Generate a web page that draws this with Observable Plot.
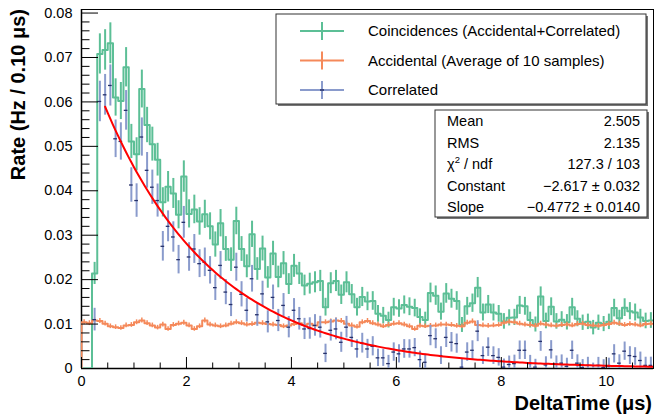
<!DOCTYPE html>
<html><head><meta charset="utf-8">
<script src="https://cdn.jsdelivr.net/npm/d3@7"></script>
<script src="https://cdn.jsdelivr.net/npm/@observablehq/plot@0.6"></script>
<style>
body{margin:0;background:#fff;}
#wrap{position:relative;width:654px;height:417px;}
</style></head><body><div id="wrap"></div>
<script>
// ---- data: 109 bins of 0.1 µs from 0 to 10.9 ----
const binWidth = 0.1;
const xDomain = [0, 10.9];
const yDomain = [0, 0.0808];

const coincidences = [
0,0,0.0214,0.0708,0.0717,0.0732,0.0610,0.0602,0.0678,0.0511,
0.0482,0.0629,0.0548,0.0505,0.0470,0.0374,0.0409,0.0394,0.0346,0.0432,
0.0348,0.0358,0.0331,0.0347,0.0320,0.0279,0.0327,0.0269,0.0245,0.0332,
0.0269,0.0230,0.0302,0.0224,0.0270,0.0205,0.0259,0.0206,0.0237,0.0190,
0.0231,0.0214,0.0187,0.0191,0.0194,0.0197,0.0138,0.0192,0.0197,0.0166,
0.0194,0.0167,0.0138,0.0161,0.0151,0.0152,0.0123,0.0119,0.0109,0.0138,
0.0135,0.0143,0.0139,0.0136,0.0116,0.0109,0.0170,0.0164,0.0128,0.0169,
0.0157,0.0152,0.0098,0.0140,0.0147,0.0182,0.0126,0.0144,0.0126,0.0123,
0.0106,0.0114,0.0115,0.0142,0.0140,0.0109,0.0099,0.0162,0.0107,0.0139,
0.0106,0.0110,0.0104,0.0138,0.0112,0.0103,0.0105,0.0092,0.0103,0.0100,
0.0105,0.0136,0.0113,0.0137,0.0129,0.0126,0.0115,0.0107,0.0108];

const accidental = [
0.0104,0.0102,0.0108,0.0107,0.0101,0.0095,0.0093,0.0091,0.0097,0.0098,
0.0104,0.0108,0.0102,0.0097,0.0092,0.0099,0.0089,0.0098,0.0101,0.0103,
0.0097,0.0089,0.0095,0.0108,0.0099,0.0097,0.0095,0.0097,0.0101,0.0104,
0.0102,0.0099,0.0100,0.0103,0.0102,0.0100,0.0099,0.0098,0.0095,0.0097,
0.0100,0.0102,0.0098,0.0101,0.0097,0.0104,0.0104,0.0106,0.0108,0.0107,
0.0101,0.0097,0.0094,0.0104,0.0107,0.0102,0.0099,0.0095,0.0098,0.0101,
0.0102,0.0099,0.0095,0.0089,0.0096,0.0095,0.0096,0.0097,0.0099,0.0099,
0.0098,0.0096,0.0095,0.0103,0.0106,0.0098,0.0097,0.0096,0.0097,0.0098,
0.0103,0.0105,0.0104,0.0101,0.0099,0.0098,0.0096,0.0101,0.0099,0.0097,
0.0096,0.0098,0.0099,0.0097,0.0100,0.0101,0.0098,0.0097,0.0096,0.0098,
0.0100,0.0103,0.0101,0.0098,0.0100,0.0099,0.0097,0.0100,0.0101];

const correlated = [
-0.0104,-0.0102,0.0110,0.0601,0.0616,0.0637,0.0517,0.0511,0.0581,0.0413,
0.0378,0.0521,0.0446,0.0408,0.0378,0.0275,0.0320,0.0296,0.0245,0.0329,
0.0251,0.0269,0.0236,0.0239,0.0221,0.0182,0.0232,0.0172,0.0144,0.0228,
0.0167,0.0131,0.0202,0.0121,0.0168,0.0105,0.0160,0.0108,0.0142,0.0093,
0.0131,0.0112,0.0089,0.0090,0.0097,0.0093,0.0034,0.0086,0.0089,0.0059,
0.0093,0.0070,0.0044,0.0057,0.0044,0.0050,0.0024,0.0024,0.0011,0.0037,
0.0033,0.0044,0.0044,0.0047,0.0020,0.0014,0.0074,0.0067,0.0029,0.0070,
0.0059,0.0056,0.0003,0.0037,0.0041,0.0084,0.0029,0.0048,0.0029,0.0025,
0.0003,0.0009,0.0011,0.0041,0.0041,0.0011,0.0003,0.0061,0.0008,0.0042,
0.0010,0.0012,0.0005,0.0041,0.0012,0.0002,0.0007,-0.0005,0.0007,0.0002,
0.0005,0.0033,0.0012,0.0039,0.0029,0.0027,0.0018,0.0007,0.0007];

// exponential fit exp(Constant + Slope*x)
const fitConstant = -2.617;
const fitSlope = -0.4772;
const fitRange = [0.45, 10.9];

const xMajorTicks = [0, 2, 4, 6, 8, 10];
const yMajorTicks = [0, 0.01, 0.02, 0.03, 0.04, 0.05, 0.06, 0.07, 0.08];

const legendLabels = ["Coincidences (Accidental+Correlated)", "Accidental (Average of 10 samples)", "Correlated"];
const statsLabels = ["Mean", "RMS", "χ2 / ndf", "Constant", "Slope"];
const statsValues = ["2.505", "2.135", "127.3 / 103", "\u22122.617 \u00b1 0.032", "\u22120.4772 \u00b1 0.0140"];

// ---- styling ----
const cGreen = "#5cbf96", cOrange = "#f5895a", cBlue = "#8a9bcc", cMarker = "#26306a", cRed = "#ff0000";
const font = "'Liberation Sans', Arial, Helvetica, sans-serif";
const W = 654, H = 417, mL = 81, mR = 1, mT = 9, mB = 49;
const pw = W - mL - mR, ph = H - mT - mB;

// ---- derive tables ----
const bins = coincidences.map((c, i) => {
  const a = accidental[i];
  const eC = 0.017 * Math.sqrt(Math.max(c, 0));
  const eA = 0.017 * Math.sqrt(a) / Math.sqrt(10);
  return {x0: i * binWidth, xc: (i + 0.5) * binWidth, c, a, r: correlated[i], eC, eA, eR: Math.sqrt(eC * eC + eA * eA)};
});
function steps(key) {
  const pts = [{x: 0, y: 0}];
  bins.forEach(b => pts.push({x: b.x0, y: b[key]}));
  pts.push({x: xDomain[1], y: bins[bins.length - 1][key]});
  return pts;
}
const fitPts = d3.range(fitRange[0], fitRange[1] + 1e-9, 0.05).map(x => ({x, y: Math.exp(fitConstant + fitSlope * x)}));
const xMinor = d3.range(0, 10.9, 0.5).filter(v => !xMajorTicks.some(m => Math.abs(m - v) < 1e-9));
const yMinor = d3.range(0, 0.0805, 0.002).filter(v => !yMajorTicks.some(m => Math.abs(m - v) < 1e-9));
const greenBins = bins.filter(b => b.c > 0);

const chart = Plot.plot({
  width: W, height: H,
  marginLeft: mL, marginRight: mR, marginTop: mT, marginBottom: mB,
  style: {fontFamily: font, fontSize: "14.5px", background: "#fff", color: "#000"},
  x: {domain: xDomain, axis: null},
  y: {domain: yDomain, axis: null},
  marks: [
    Plot.frame({stroke: "#000", strokeWidth: 1}),
    Plot.ruleY([0], {stroke: "#000", strokeWidth: 1.5}),
    Plot.ruleX([0], {stroke: "#000", strokeWidth: 1.5}),
    Plot.line(steps("c"), {x: "x", y: "y", curve: "step-after", stroke: cGreen, strokeWidth: 2, clip: true}),
    Plot.ruleX(greenBins, {x: "xc", y1: d => d.c - d.eC, y2: d => d.c + d.eC, stroke: cGreen, strokeWidth: 2, clip: true}),
    Plot.line(steps("a"), {x: "x", y: "y", curve: "step-after", stroke: cOrange, strokeWidth: 2, clip: true}),
    Plot.ruleX(bins, {x: "xc", y1: d => d.a - d.eA, y2: d => d.a + d.eA, stroke: cOrange, strokeWidth: 1.5, clip: true}),
    Plot.ruleX(bins, {x: "xc", y1: d => d.r - d.eR, y2: d => d.r + d.eR, stroke: cBlue, strokeWidth: 2, clip: true}),
    Plot.ruleY(bins, {y: "r", x1: d => d.xc - 0.035, x2: d => d.xc + 0.035, stroke: cMarker, strokeWidth: 1.3, clip: true}),
    Plot.line(fitPts, {x: "x", y: "y", stroke: cRed, strokeWidth: 2, clip: true}),
    // inward ticks
    Plot.tickX(xMajorTicks, {x: d => d, stroke: "#000", strokeWidth: 1, insetTop: ph - 11}),
    Plot.tickX(xMinor, {x: d => d, stroke: "#000", strokeWidth: 1, insetTop: ph - 5.5}),
    Plot.tickY(yMajorTicks, {y: d => d, stroke: "#000", strokeWidth: 1, insetRight: pw - 17}),
    Plot.tickY(yMinor, {y: d => d, stroke: "#000", strokeWidth: 1, insetRight: pw - 8.5}),
    Plot.axisX({ticks: xMajorTicks, tickSize: 0, tickPadding: 7, tickFormat: d => String(d), label: null}),
    Plot.axisY({ticks: yMajorTicks, tickSize: 0, tickPadding: 9, tickFormat: d => d === 0 ? "0" : d.toFixed(2), label: null})
  ]
});
document.getElementById("wrap").appendChild(chart);

// ---- overlay: titles, legend, stats ----
const svg = d3.select(chart);
const g = svg.append("g").attr("font-family", font).attr("text-anchor", "start").attr("fill", "#000");

g.append("text").attr("x", 652).attr("y", 410).attr("text-anchor", "end")
  .attr("font-weight", "bold").attr("font-size", 20).text("DeltaTime (\u03bcs)");
g.append("text").attr("transform", "translate(25,9) rotate(-90)").attr("text-anchor", "end")
  .attr("font-weight", "bold").attr("font-size", 20).text("Rate (Hz / 0.10 \u03bcs)");

// legend box with shadow
const lg = {x: 276, y: 14, w: 370, h: 90};
g.append("rect").attr("x", lg.x + 2).attr("y", lg.y + 2).attr("width", lg.w).attr("height", lg.h).attr("fill", "#777").attr("stroke", "none");
g.append("rect").attr("x", lg.x).attr("y", lg.y).attr("width", lg.w).attr("height", lg.h).attr("fill", "#fff").attr("stroke", "#333").attr("stroke-width", 1);
const legCols = [cGreen, cOrange, cBlue];
legendLabels.forEach((t, i) => {
  const cy = lg.y + 17 + i * 29.5;
  const sx = 322;
  g.append("line").attr("x1", sx - 22).attr("x2", sx + 22).attr("y1", cy).attr("y2", cy).attr("stroke", legCols[i]).attr("stroke-width", 2);
  g.append("line").attr("x1", sx).attr("x2", sx).attr("y1", cy - 9).attr("y2", cy + 9).attr("stroke", legCols[i]).attr("stroke-width", 2);
  if (i === 2) g.append("line").attr("x1", sx - 2).attr("x2", sx + 2).attr("y1", cy).attr("y2", cy).attr("stroke", cMarker).attr("stroke-width", 1.5);
  g.append("text").attr("x", 368).attr("y", cy + 5).attr("font-size", 15).attr("text-anchor", "start").text(t);
});

// stats box
const sb = {x: 435, y: 110, w: 212, h: 107};
g.append("rect").attr("x", sb.x + 2).attr("y", sb.y + 2).attr("width", sb.w).attr("height", sb.h).attr("fill", "#777").attr("stroke", "none");
g.append("rect").attr("x", sb.x).attr("y", sb.y).attr("width", sb.w).attr("height", sb.h).attr("fill", "#fff").attr("stroke", "#333").attr("stroke-width", 1);
statsLabels.forEach((t, i) => {
  const by = sb.y + 16 + i * 21.5;
  const tl = g.append("text").attr("x", 447).attr("y", by).attr("font-size", 14.5).attr("text-anchor", "start");
  if (t.startsWith("χ2")) {
    tl.append("tspan").text("\u03c7");
    tl.append("tspan").attr("font-size", 9.5).attr("dy", -6).text("2");
    tl.append("tspan").attr("dy", 6).text(" / ndf");
  } else tl.text(t);
  g.append("text").attr("x", 640).attr("y", by).attr("text-anchor", "end").attr("font-size", 14.5).text(statsValues[i]);
});
</script></body></html>
